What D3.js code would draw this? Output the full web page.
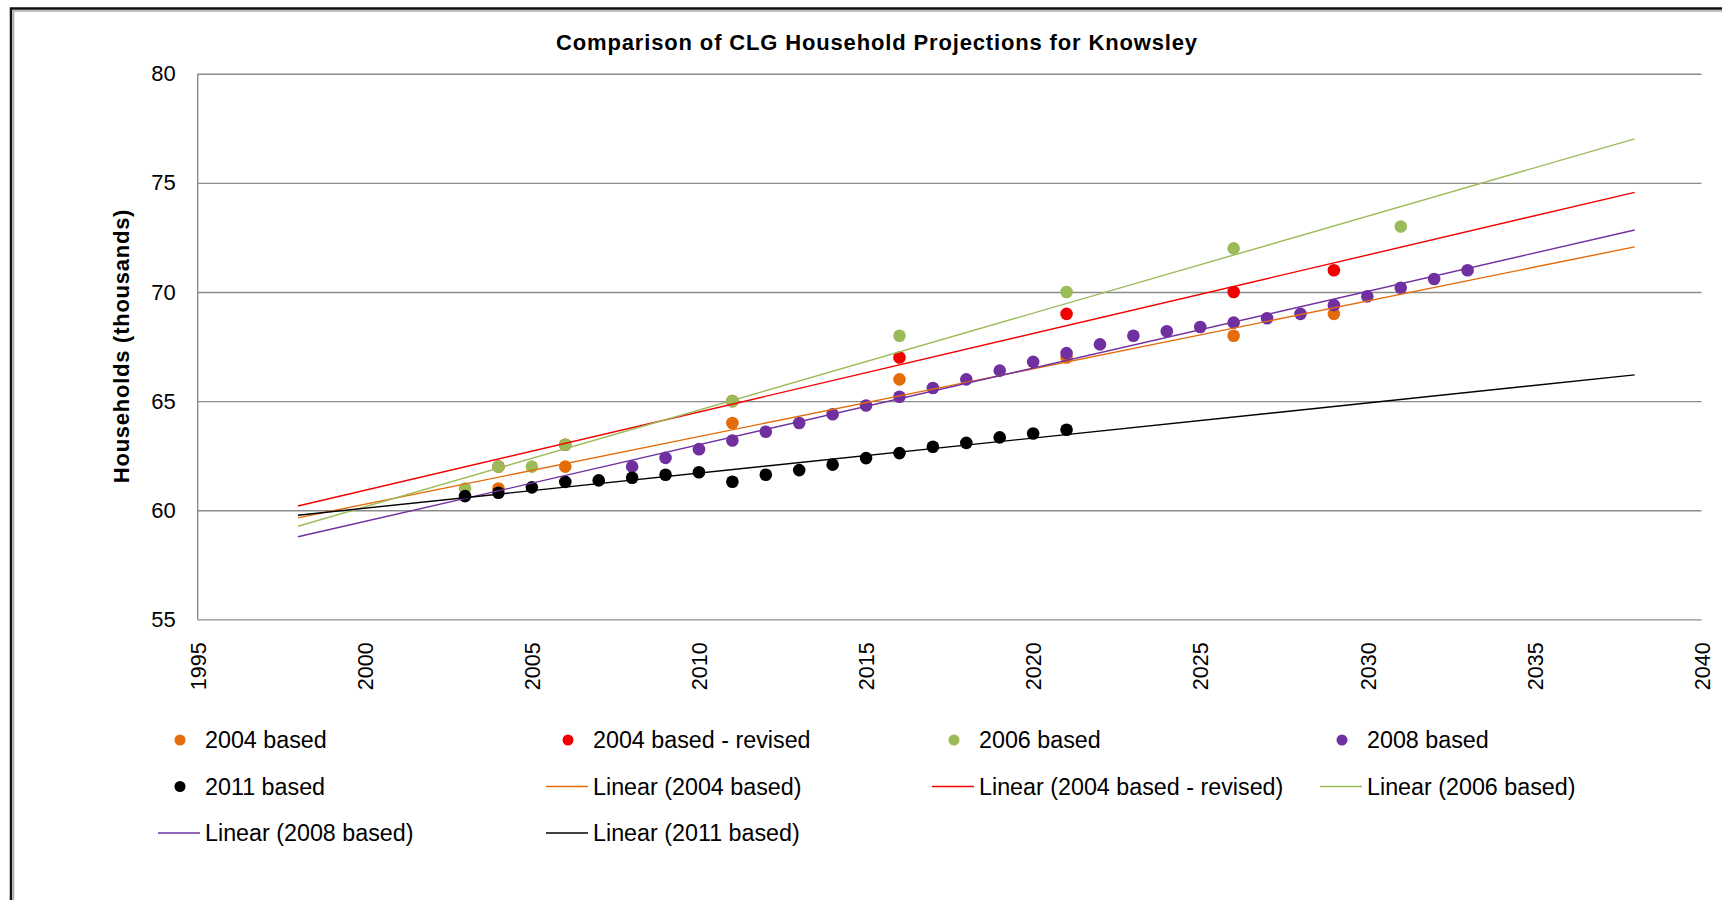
<!DOCTYPE html>
<html>
<head>
<meta charset="utf-8">
<script src="https://cdn.jsdelivr.net/npm/d3@7/dist/d3.min.js"></script>
<style>
  html, body { margin: 0; padding: 0; background: #fff; overflow: hidden; }
  svg { display: block; }
  text { font-family: "Liberation Sans", Arial, Helvetica, sans-serif; fill: #000; }
</style>
</head>
<body>
<svg id="chart" width="1722" height="900"></svg>
<script>
// ---------------- data ----------------
const titleText = "Comparison of CLG Household Projections for Knowsley";
const yAxisTitle = "Households (thousands)";

const years2004 = [2004, 2006, 2011, 2016, 2021, 2026, 2029];
const vals2004  = [61, 62, 64, 66, 67, 68, 69];

const years2004r = [2004, 2006, 2011, 2016, 2021, 2026, 2029];
const vals2004r  = [62, 63, 65, 67, 69, 70, 71];

const years2006 = [2003, 2004, 2005, 2006, 2011, 2016, 2021, 2026, 2031];
const vals2006  = [61, 62, 62, 63, 65, 68, 70, 72, 73];

const years2008 = [2008, 2009, 2010, 2011, 2012, 2013, 2014, 2015, 2016, 2017, 2018, 2019, 2020,
                   2021, 2022, 2023, 2024, 2025, 2026, 2027, 2028, 2029, 2030, 2031, 2032, 2033];
const vals2008  = [62.0, 62.4, 62.8, 63.2, 63.6, 64.0, 64.4, 64.8, 65.2, 65.6, 66.0, 66.4, 66.8,
                   67.2, 67.6, 68.0, 68.2, 68.4, 68.6, 68.8, 69.0, 69.4, 69.8, 70.2, 70.6, 71.0];

const years2011 = [2003, 2004, 2005, 2006, 2007, 2008, 2009, 2010, 2011, 2012, 2013, 2014, 2015,
                   2016, 2017, 2018, 2019, 2020, 2021];
const vals2011  = [60.65, 60.8, 61.05, 61.3, 61.37, 61.49, 61.63, 61.74, 61.31, 61.63, 61.84, 62.09,
                   62.39, 62.62, 62.91, 63.09, 63.34, 63.52, 63.69];

const seriesNames  = ["2004 based", "2004 based - revised", "2006 based", "2008 based", "2011 based"];
const seriesColors = ["#E46C0A", "#F20000", "#9BBB59", "#7030A0", "#000000"];
const trendStart = 1998, trendEnd = 2038;

const xTicks = [1995, 2000, 2005, 2010, 2015, 2020, 2025, 2030, 2035, 2040];
const yTicks = [55, 60, 65, 70, 75, 80];

// legend layout order (as in the picture)
const legendItems = [
  {label: "2004 based", type: "dot", s: 0},
  {label: "2004 based - revised", type: "dot", s: 1},
  {label: "2006 based", type: "dot", s: 2},
  {label: "2008 based", type: "dot", s: 3},
  {label: "2011 based", type: "dot", s: 4},
  {label: "Linear (2004 based)", type: "line", s: 0},
  {label: "Linear (2004 based - revised)", type: "line", s: 1},
  {label: "Linear (2006 based)", type: "line", s: 2},
  {label: "Linear (2008 based)", type: "line", s: 3},
  {label: "Linear (2011 based)", type: "line", s: 4}
];

// ---------------- build ----------------
const series = [
  {x: years2004, y: vals2004},
  {x: years2004r, y: vals2004r},
  {x: years2006, y: vals2006},
  {x: years2008, y: vals2008},
  {x: years2011, y: vals2011}
].map((d, i) => ({
  name: seriesNames[i], color: seriesColors[i],
  pts: d.x.map((xx, j) => ({x: xx, y: d.y[j]}))
}));

function linFit(pts) {
  const mx = d3.mean(pts, p => p.x), my = d3.mean(pts, p => p.y);
  const sxy = d3.sum(pts, p => (p.x - mx) * (p.y - my));
  const sxx = d3.sum(pts, p => (p.x - mx) * (p.x - mx));
  const b = sxy / sxx;
  return xx => my + b * (xx - mx);
}

const svg = d3.select("#chart");

// outer frame (right and bottom edges fall outside the picture)
svg.append("rect").attr("x", 11).attr("y", 8.5).attr("width", 1900).attr("height", 1000)
  .attr("fill", "none").attr("stroke", "#111").attr("stroke-width", 2.5);
svg.append("rect").attr("x", 13.5).attr("y", 11).attr("width", 1900).attr("height", 1000)
  .attr("fill", "none").attr("stroke", "#aaa").attr("stroke-width", 1.5);

const plotL = 197.7, plotR = 1701.5, plotT = 73.8, plotB = 619.4;
const x = d3.scaleLinear().domain([1995, 2040]).range([plotL, plotR]);
const y = d3.scaleLinear().domain([55, 80]).range([plotB, plotT]);

// title
svg.append("text").attr("x", 877).attr("y", 42).attr("dy", "0.35em")
  .attr("text-anchor", "middle").attr("font-weight", "bold").attr("font-size", 22)
  .attr("letter-spacing", 0.85)
  .text(titleText);

// y axis with gridlines
const yAxis = svg.append("g").attr("transform", `translate(${plotL},0)`)
  .call(d3.axisLeft(y).tickValues(yTicks).tickSize(-(plotR - plotL)).tickPadding(22).tickFormat(d3.format("d")));
yAxis.select(".domain").remove();
yAxis.selectAll(".tick line").attr("stroke", "#8c8c8c").attr("stroke-width", 1.4);
yAxis.selectAll(".tick text").attr("font-size", 22).attr("font-family", '"Liberation Sans", Arial, sans-serif');

// left axis line
svg.append("line").attr("x1", plotL).attr("x2", plotL).attr("y1", plotT).attr("y2", plotB)
  .attr("stroke", "#8c8c8c").attr("stroke-width", 1.4);

// x axis labels
const xAxis = svg.append("g").attr("transform", `translate(0,${plotB})`)
  .call(d3.axisBottom(x).tickValues(xTicks).tickSize(0).tickFormat(d3.format("d")));
xAxis.select(".domain").remove();
xAxis.selectAll(".tick text")
  .attr("font-size", 21.5).attr("font-family", '"Liberation Sans", Arial, sans-serif')
  .attr("text-anchor", "end")
  .attr("transform", "translate(0,23) rotate(-90)")
  .attr("x", 0).attr("y", 0).attr("dy", "0.36em");

// y axis title
svg.append("text").attr("transform", "translate(121,346) rotate(-90)")
  .attr("text-anchor", "middle").attr("dy", "0.35em")
  .attr("font-weight", "bold").attr("font-size", 22).attr("letter-spacing", 0.75)
  .text(yAxisTitle);

// markers
const gPts = svg.append("g");
series.forEach(s => {
  gPts.append("g").selectAll("circle").data(s.pts).join("circle")
    .attr("cx", d => x(d.x)).attr("cy", d => y(d.y)).attr("r", 6.3)
    .attr("fill", s.color);
});

// trendlines
const gTr = svg.append("g");
series.forEach(s => {
  const f = linFit(s.pts);
  gTr.append("line")
    .attr("x1", x(trendStart)).attr("y1", y(f(trendStart)))
    .attr("x2", x(trendEnd)).attr("y2", y(f(trendEnd)))
    .attr("stroke", s.color).attr("stroke-width", 1.4);
});

// legend
const colX = [180, 568, 954, 1342];
const rowY = [740, 786.5, 833];
const gLeg = svg.append("g");
legendItems.forEach((it, i) => {
  const c = i % 4, r = Math.floor(i / 4);
  const cx = colX[c], cy = rowY[r];
  const col = seriesColors[it.s];
  if (it.type === "dot") {
    gLeg.append("circle").attr("cx", cx).attr("cy", cy).attr("r", 5.5).attr("fill", col);
  } else {
    gLeg.append("line").attr("x1", cx - 22).attr("x2", cx + 20).attr("y1", cy).attr("y2", cy)
      .attr("stroke", col).attr("stroke-width", 1.4);
  }
  gLeg.append("text").attr("x", cx + 25).attr("y", cy).attr("dy", "0.35em")
    .attr("font-size", 23.3).text(it.label);
});
</script>
</body>
</html>
